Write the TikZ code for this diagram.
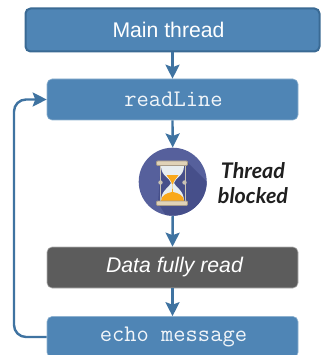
\documentclass[tikz,border=0pt]{standalone}
\usepackage{fontspec}
\setmainfont{Liberation Sans}
\newfontfamily\latofont{Lato}
\usetikzlibrary{arrows.meta}
\definecolor{boxblue}{HTML}{4F85B5}
\definecolor{boxedge}{HTML}{3A6A94}
\definecolor{lineblue}{HTML}{3F73A1}
\definecolor{lightedge}{HTML}{8FB2D0}
\definecolor{darkbox}{HTML}{5C5C5C}
\definecolor{disc}{HTML}{56609C}
\definecolor{discdark}{HTML}{464F8A}
\definecolor{plate}{HTML}{E0D3B8}
\definecolor{plateedge}{HTML}{A89C88}
\definecolor{glass}{HTML}{E8EEF0}
\definecolor{sand}{HTML}{F9A81A}
\definecolor{rod}{HTML}{C9C3B4}
\tikzset{
  x=1pt,y=-1pt,
  basebox/.style={minimum width=251pt,minimum height=41pt,rounded corners=5pt,inner sep=0pt,text=white,font=\fontsize{21.2pt}{24pt}\selectfont},
  bluebox/.style={basebox,fill=boxblue,draw=lightedge,line width=.6pt},
  mainbox/.style={basebox,fill=boxblue,draw=boxedge,line width=2pt,minimum width=294pt,minimum height=43pt},
  greybox/.style={basebox,fill=darkbox,draw=black!30,line width=.6pt},
  codetext/.style={font=\ttfamily\fontsize{23.8pt}{26pt}\selectfont,text=white!92!boxblue},
  flow/.style={draw=lineblue,line width=2.4pt,-{Stealth[length=14pt,width=14pt,inset=2.5pt]}},
  loopline/.style={flow,rounded corners=12pt},
  sidetext/.style={font=\latofont\bfseries\itshape\fontsize{21.5pt}{25pt}\selectfont,text=black!88,align=center,inner sep=0pt}
}
\begin{document}
\begin{tikzpicture}
\useasboundingbox (0,0) rectangle (321,355);
\begin{scope}
\clip (0,0) rectangle (321,355);
\node[mainbox] (main) at (172.5,30) {Main thread\kern8pt};
\node[bluebox,codetext] (read) at (172.5,99.5) {\hspace{2pt}readLine};
\node[circle,fill=disc,minimum size=68pt,inner sep=0pt] (icon) at (172.7,181.7) {};
\node[greybox,font=\itshape\fontsize{21.2pt}{24pt}\selectfont] (data) at (172.5,267.5) {\hspace{4pt}Data fully read};
\node[bluebox,codetext] (echo) at (172.5,337) {\hspace{2pt}echo message};
\end{scope}
% icon
\begin{scope}
\clip (172.7,181.7) circle (34);
\fill[discdark] (161,163) -- (188,163) -- (230,205) -- (210,240) -- (175,230) -- (158,203) -- cycle;
\end{scope}
\fill[glass] (161,166) .. controls (161,176) and (170,178) .. (171,183) .. controls (170,187) and (161,190) .. (161,201) -- (184,201) .. controls (184,190) and (175,187) .. (174,183) .. controls (175,178) and (184,176) .. (184,166) -- cycle;
\fill[sand] (166.5,175) -- (178.5,175) .. controls (176,179) and (174,180) .. (173,184) -- (172,184) .. controls (171,180) and (169,179) .. (166.5,175) -- cycle;
\fill[sand] (172.5,184) -- (172.9,192) .. controls (179,193) and (184,196) .. (184,201) -- (161,201) .. controls (161,196) and (166,193) .. (172.1,192) -- cycle;
\draw[rod,line width=1pt] (160,165) -- (160,201) (185,165) -- (185,201);
\fill[rod] (160.5,182.5) circle (2.2) (184.5,182.5) circle (2.2);
\fill[plate,draw=plateedge,line width=.8pt,rounded corners=1pt] (156.5,161) rectangle (187.5,165.5);
\fill[plate,draw=plateedge,line width=.8pt,rounded corners=1pt] (156.5,201) rectangle (187.5,205.5);
\node[sidetext] (label) at (253,183.5) {Thread\\blocked};
% connectors
\draw[flow] (main.south) -- (read.north);
\draw[flow] (read.south) -- (icon.north);
\draw[flow] (icon.south) -- (data.north);
\draw[flow] (data.south) -- (echo.north);
\coordinate (loopbottom) at (14,337);
\coordinate (looptop) at (14,99.5);
\draw[loopline] (echo.west) -- (loopbottom) -- (looptop) -- (read.west);
\end{tikzpicture}
\end{document}
